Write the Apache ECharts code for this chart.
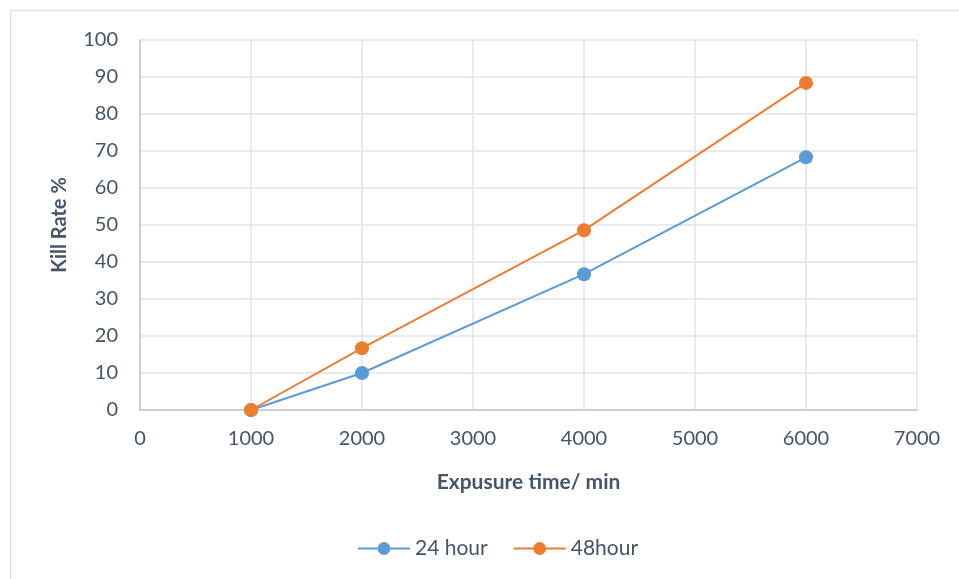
<!DOCTYPE html>
<html>
<head>
<meta charset="utf-8">
<script src="https://cdn.jsdelivr.net/npm/echarts@6/dist/echarts.min.js"></script>
<style>html,body{margin:0;padding:0;background:#fff;}#c{width:959px;height:579px;}</style>
</head>
<body>
<div id="c"></div>
<script>
const xValues = [1000, 2000, 4000, 6000];
const series24 = [0, 10, 36.7, 68.3];
const series48 = [0, 16.7, 48.6, 88.4];
const seriesNames = ['24 hour', '48hour'];
const xTitle = 'Expusure time/ min';
const yTitle = 'Kill Rate %';

const chart = echarts.init(document.getElementById('c'));
const textColor = '#44546a';
const font = 'Lato, "Open Sans", sans-serif';
chart.setOption({
  animation: false,
  graphic: [{
    type: 'rect', shape: {x: 10.5, y: 10.5, width: 1000, height: 1000},
    style: {fill: 'none', stroke: '#dfe3ec', lineWidth: 1.5}, silent: true
  }],
  grid: {left: 140, top: 40, right: 42, bottom: 169},
  legend: {
    top: 533, left: 352, itemWidth: 52, itemHeight: 16, itemGap: 25,
    textStyle: {color: textColor, fontSize: 21, fontFamily: font},
    data: seriesNames
  },
  xAxis: {
    type: 'value', min: 0, max: 7000, interval: 1000,
    name: xTitle, nameLocation: 'middle', nameGap: 62,
    nameTextStyle: {color: textColor, fontSize: 21, fontWeight: 'bold', fontFamily: font},
    axisLine: {show: true, lineStyle: {color: '#bfc5d2', width: 1.5}},
    axisTick: {show: false},
    axisLabel: {color: textColor, fontSize: 20, fontFamily: font, margin: 19, formatter: v => String(v)},
    splitLine: {show: true, lineStyle: {color: '#dfe3ec', width: 1.5}}
  },
  yAxis: {
    type: 'value', min: 0, max: 100, interval: 10,
    name: yTitle, nameLocation: 'middle', nameGap: 70,
    nameTextStyle: {color: textColor, fontSize: 20, fontWeight: 'bold', fontFamily: font},
    axisLine: {show: true, lineStyle: {color: '#bfc5d2', width: 1.5}},
    axisTick: {show: false},
    axisLabel: {color: textColor, fontSize: 20, fontFamily: font, margin: 22},
    splitLine: {show: true, lineStyle: {color: '#dfe3ec', width: 1.5}}
  },
  series: [
    {
      name: seriesNames[0], type: 'line', data: xValues.map((x, i) => [x, series24[i]]),
      symbol: 'circle', symbolSize: 14,
      itemStyle: {color: '#5b9bd5'}, lineStyle: {color: '#5b9bd5', width: 2}
    },
    {
      name: seriesNames[1], type: 'line', data: xValues.map((x, i) => [x, series48[i]]),
      symbol: 'circle', symbolSize: 14,
      itemStyle: {color: '#ed7d31'}, lineStyle: {color: '#ed7d31', width: 2}
    }
  ]
});
</script>
</body>
</html>
